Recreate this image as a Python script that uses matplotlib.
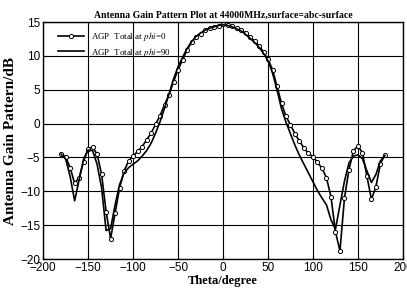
import numpy as np
import matplotlib
matplotlib.use("Agg")
import matplotlib.pyplot as plt

plt.rcParams['mathtext.fontset'] = 'stix'

# theta in degrees, 5 degree steps
theta = np.arange(-180, 181, 5)

# AGP total at phi=0 (with markers)
agp_phi0 = [-4.5, -4.9, -6.5, -8.8, -8.0, -5.6, -3.7, -3.5, -4.5, -7.5,
            -13.0, -17.0, -13.2, -9.5, -7.0, -5.5, -4.8, -4.1, -3.4, -2.4,
            -1.4, -0.1, 1.2, 2.8, 4.3, 6.2, 8.0, 9.4, 10.9, 12.0,
            12.8, 13.3, 13.8, 14.1, 14.3, 14.5, 14.7, 14.6, 14.4, 14.1,
            13.8, 13.4, 12.8, 12.2, 11.5, 10.6, 9.5, 8.0, 5.5, 3.0,
            1.1, -0.2, -1.5, -2.6, -3.6, -4.4, -4.9, -5.7, -6.6, -8.0,
            -10.8, -16.0, -18.8, -11.0, -6.8, -4.0, -3.3, -4.3, -7.8, -11.2,
            -9.3, -5.9, -4.6]

# AGP total at phi=90 (line only)
agp_phi90 = [-4.5, -5.2, -7.8, -11.4, -8.3, -5.2, -3.9, -4.0, -6.0, -9.5,
             -15.8, -15.5, -12.0, -9.0, -7.3, -6.5, -6.0, -5.5, -4.8, -4.0,
             -2.9, -1.4, 0.3, 2.3, 4.4, 6.6, 8.4, 9.8, 11.1, 12.1,
             12.9, 13.4, 13.8, 14.1, 14.3, 14.5, 14.6, 14.5, 14.3, 14.0,
             13.7, 13.2, 12.6, 12.0, 11.3, 10.4, 9.3, 7.5, 5.0, 2.2,
             0.2, -1.5, -3.2, -4.7, -6.0, -7.3, -8.6, -9.9, -11.0, -12.0,
             -14.2, -15.6, -12.0, -8.5, -5.8, -4.8, -4.6, -5.2, -7.0, -8.7,
             -7.5, -5.5, -4.7]

fig = plt.figure(figsize=(4.07, 2.95), dpi=100)
ax = fig.add_axes([0.106, 0.122, 0.884, 0.803])

ax.plot(theta, agp_phi0, color='black', lw=1.2, marker='o', ms=3.0,
        mfc='white', mec='black', mew=0.7, label=r'AGP  Total at $\mathit{phi}$=0')
ax.plot(theta, agp_phi90, color='black', lw=1.2, label=r'AGP  Total at $\mathit{phi}$=90')

ax.set_xlim(-200, 200)
ax.set_ylim(-20, 15)
ax.set_xticks(np.arange(-200, 201, 50))
ax.set_yticks(np.arange(-20, 16, 5))
ax.grid(True, color='black', lw=0.8)
ax.tick_params(direction='in', length=3, labelsize=8.5, pad=2)
for lab in ax.get_xticklabels() + ax.get_yticklabels():
    lab.set_family('Liberation Sans')
for sp in ax.spines.values():
    sp.set_linewidth(1.0)

ax.set_title('Antenna Gain Pattern Plot at 44000MHz,surface=abc-surface',
             fontsize=7, fontweight='bold', family='Liberation Serif', pad=3)
ax.set_xlabel('Theta/degree', fontsize=9, fontweight='bold',
              family='Liberation Serif', labelpad=1)
ax.set_ylabel('Antenna Gain Pattern/dB', fontsize=11, fontweight='bold',
              family='Liberation Serif', labelpad=2)

leg = ax.legend(loc='upper left', frameon=False,
                prop={'family': 'Liberation Serif', 'size': 6.5},
                handlelength=2.8, borderaxespad=0.5, labelspacing=0.25,
                bbox_to_anchor=(0.02, 1.0))

fig.savefig('out.png', dpi=100)
